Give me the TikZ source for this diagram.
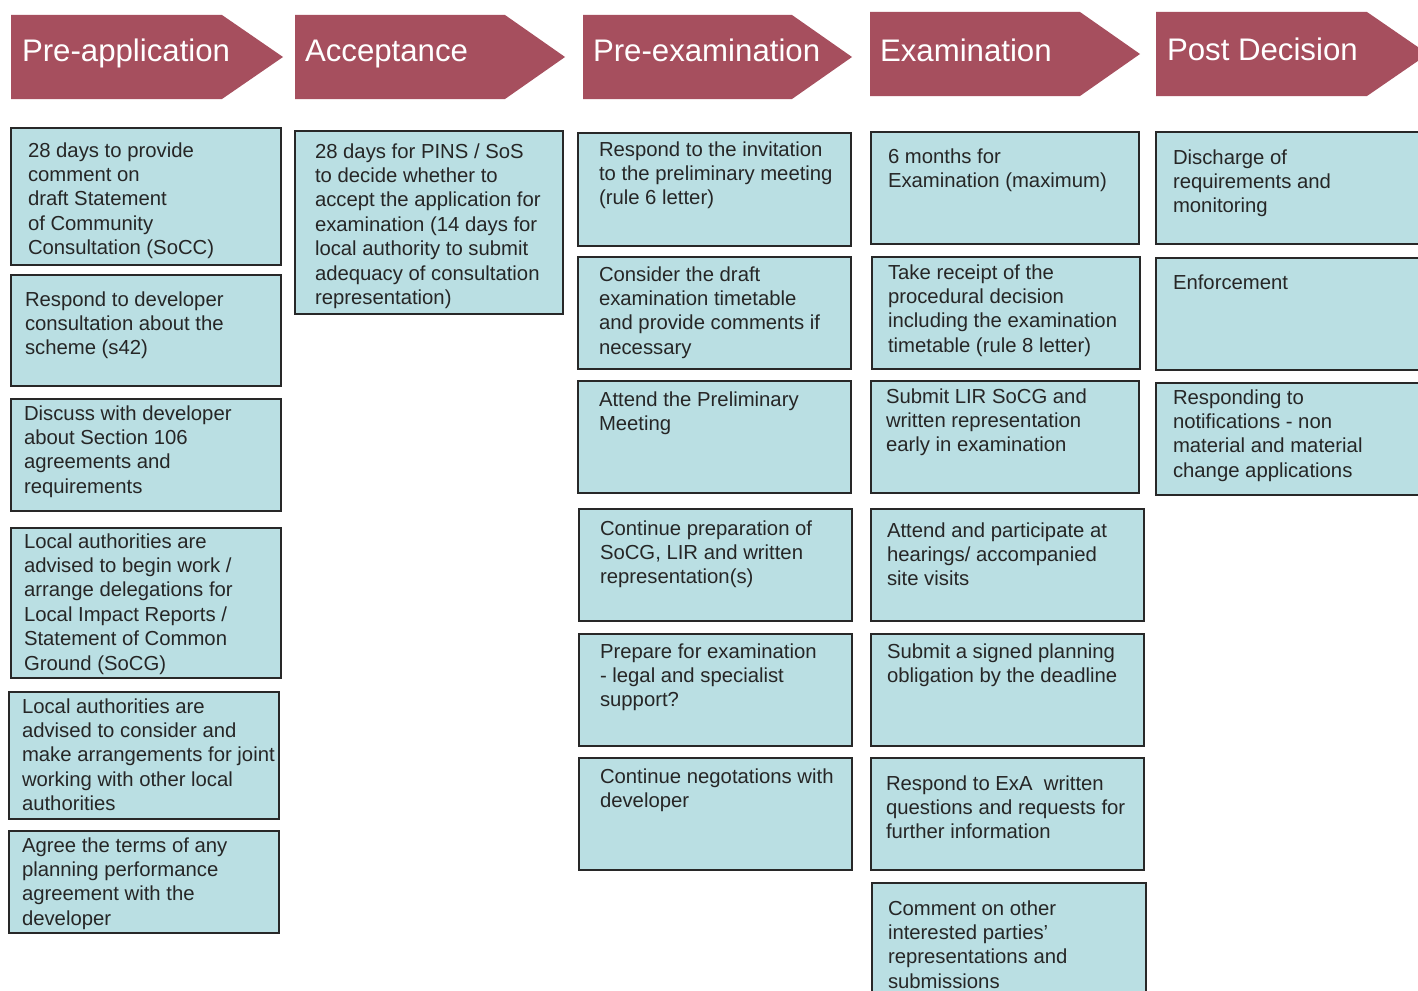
\documentclass[tikz,border=0pt]{standalone}
\usepackage{fontspec}
\setmainfont{Liberation Sans}
\definecolor{hdrcol}{RGB}{166,79,94}
\definecolor{boxcol}{RGB}{186,223,227}
\definecolor{edgecol}{RGB}{40,40,40}
\definecolor{txtcol}{RGB}{38,38,38}
\tikzset{
  lbox/.style={draw=edgecol, fill=boxcol, line width=1.8pt, rectangle, inner sep=0pt, outer sep=0pt},
  ltext/.style={anchor=north west, inner sep=0pt, outer sep=0pt, align=left, text=txtcol,
    font=\fontsize{20.3}{24.4}\selectfont},
  hdr/.style={fill=hdrcol},
  htext/.style={anchor=base west, inner sep=0pt, outer sep=0pt, text=white,
    font=\fontsize{31.2}{36}\selectfont}
}
\newcommand\lbox[8]{%
  \node[lbox, anchor=north west, minimum width={#4pt-#2pt}, minimum height={#5pt-#3pt}] (#1) at (#2,#3) {};
  \node[ltext] (#1t) at (#6,{#7-17.08}) {\strut #8};
}
\newcommand\hdrarrow[9]{%
  \fill[hdr] (#2,#3) -- (#4,#3) -- (#5,{(#3+#6)/2}) -- (#4,#6) -- (#2,#6) -- cycle;
  \node[htext] (#1) at (#7,#8) {#9};
}
\begin{document}
\begin{tikzpicture}[x=1pt,y=-1pt]
\useasboundingbox (0,0) rectangle (1418,990);
\clip (0,0) rectangle (1418,990);
\fill[white] (0,0) rectangle (1418,990);

% headers
\hdrarrow{h1}{11}{15}{222}{283}{99}{22}{62}{Pre-application}
\hdrarrow{h2}{295}{15}{505}{565}{99}{305}{62}{Acceptance}
\hdrarrow{h3}{583}{15}{792}{852}{99}{593}{62}{Pre-examination}
\hdrarrow{h4}{870}{12}{1080}{1140}{96}{880}{62}{Examination}
\hdrarrow{h5}{1156}{12}{1367}{1428}{96}{1167}{60}{Post Decision}

% column 1
\lbox{a1}{11}{128}{281}{265}{28}{157}{28 days to provide\\comment on\\draft Statement\\of Community\\Consultation (SoCC)}
\lbox{a2}{11}{275}{281}{386}{25}{306}{Respond to developer\\consultation about the\\scheme (s42)}
\lbox{a3}{11}{399}{281}{511}{24}{420}{Discuss with developer\\about Section 106\\agreements and\\requirements}
\lbox{a4}{11}{528}{281}{678}{24}{548}{Local authorities are\\advised to begin work /\\arrange delegations for\\Local Impact Reports /\\Statement of Common\\Ground (SoCG)}
\lbox{a5}{9}{692}{279}{819}{22}{713}{Local authorities are\\advised to consider and\\make arrangements for joint\\working with other local\\authorities}
\lbox{a6}{9}{831}{279}{933}{22}{852}{Agree the terms of any\\planning performance\\agreement with the\\developer}

% column 2
\lbox{b1}{295}{131}{563}{314}{315}{158}{28 days for PINS / SoS\\to decide whether to\\accept the application for\\examination (14 days for\\local authority to submit\\adequacy of consultation\\representation)}

% column 3
\lbox{c1}{578}{133}{851}{246}{599}{156}{Respond to the invitation\\to the preliminary meeting\\(rule 6 letter)}
\lbox{c2}{578}{257}{851}{369}{599}{281}{Consider the draft\\examination timetable\\and provide comments if\\necessary}
\lbox{c3}{578}{381}{851}{493}{599}{406}{Attend the Preliminary\\Meeting}
\lbox{c4}{579}{509}{852}{621}{600}{535}{Continue preparation of\\SoCG, LIR and written\\representation(s)}
\lbox{c5}{579}{634}{852}{746}{600}{658}{Prepare for examination\\- legal and specialist\\support?}
\lbox{c6}{579}{758}{852}{870}{600}{783}{Continue negotations with\\developer}

% column 4
\lbox{d1}{871}{132}{1139}{244}{888}{163}{6 months for\\Examination (maximum)}
\lbox{d2}{872}{257}{1140}{369}{888}{279}{Take receipt of the\\procedural decision\\including the examination\\timetable (rule 8 letter)}
\lbox{d3}{871}{381}{1139}{493}{886}{403}{Submit LIR SoCG and\\written representation\\early in examination}
\lbox{d4}{871}{509}{1144}{621}{887}{537}{Attend and participate at\\hearings/ accompanied\\site visits}
\lbox{d5}{871}{634}{1144}{746}{887}{658}{Submit a signed planning\\obligation by the deadline}
\lbox{d6}{871}{758}{1144}{870}{886}{790}{Respond to ExA\ \ written\\questions and requests for\\further information}
\lbox{d7}{872}{883}{1146}{1010}{888}{915}{Comment on other\\interested parties’\\representations and\\submissions}

% column 5
\lbox{e1}{1156}{132}{1430}{244}{1173}{164}{Discharge of\\requirements and\\monitoring}
\lbox{e2}{1156}{258}{1430}{370}{1173}{289}{Enforcement}
\lbox{e3}{1156}{383}{1430}{495}{1173}{404}{Responding to\\notifications - non\\material and material\\change applications}
\end{tikzpicture}
\end{document}
